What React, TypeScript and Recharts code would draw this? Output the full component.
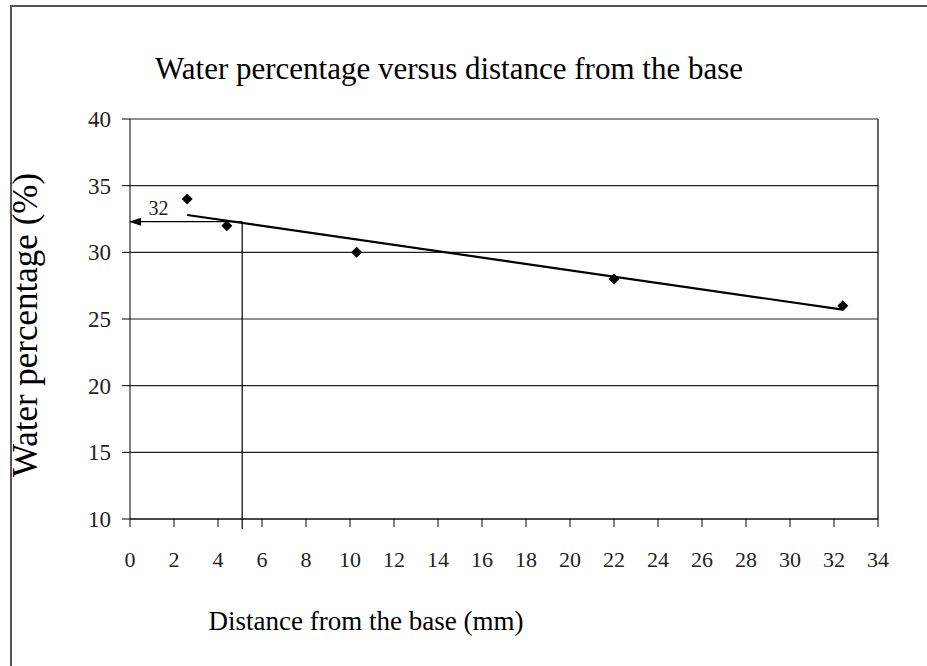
import React from 'react';
import { ComposedChart, XAxis, YAxis, CartesianGrid, Line, Scatter, ReferenceLine, ReferenceDot, Label } from 'recharts';

const distances = [2.6, 4.4, 10.3, 22, 32.4];
const waterPct = [34, 32, 30, 28, 26];
const trendX = [2.6, 32.4];
const trendY = [32.8, 25.7];
const readX = 5.1;
const readY = 32.3;
const readLabel = '32';
const labelPos = { x: 1.3, y: 33.3 };
const xTicks = [0, 2, 4, 6, 8, 10, 12, 14, 16, 18, 20, 22, 24, 26, 28, 30, 32, 34];
const yTicks = [10, 15, 20, 25, 30, 35, 40];
const title = 'Water percentage versus distance from the base';
const xTitle = 'Distance from the base (mm)';
const yTitle = 'Water percentage (%)';

const points = distances.map((d, i) => ({ x: d, y: waterPct[i] }));
const trend = trendX.map((d, i) => ({ x: d, y: trendY[i] }));
const arrow = [{ x: readX, y: readY }, { x: 0, y: readY }];

const FONT = '"Liberation Serif", "Times New Roman", serif';

const Diamond = (p: any) => {
  const { cx, cy } = p;
  const r = 5.5;
  return <polygon points={`${cx},${cy - r} ${cx + r},${cy} ${cx},${cy + r} ${cx - r},${cy}`} fill="#000" />;
};

const ArrowDot = (p: any) => {
  const { cx, cy, index } = p;
  if (index !== 1) return <g key={`ad${index}`} />;
  return <polygon key={`ad${index}`} points={`${cx - 1},${cy} ${cx + 11},${cy - 4} ${cx + 11},${cy + 4}`} fill="#000" />;
};

export default function App() {
  return (
    <div style={{ position: 'absolute', left: 0, top: 0, width: 927, height: 666, overflow: 'hidden', background: '#fff' }}>
      <div style={{ position: 'absolute', left: 10, top: 5, width: 940, height: 700, borderTop: '2px solid #555', borderLeft: '2px solid #555' }} />
      <div style={{ position: 'absolute', left: 0, top: 51, width: 898, textAlign: 'center', fontFamily: FONT, fontSize: 31, lineHeight: '36px', color: '#000' }}>{title}</div>
      <div style={{ position: 'absolute', left: 0, top: 0 }}>
        <ComposedChart width={927} height={666} margin={{ top: 119, right: 49, bottom: 0, left: 0 }}>
          <CartesianGrid vertical={false} stroke="#222" strokeWidth={1.2} />
          <XAxis
            type="number"
            dataKey="x"
            domain={[0, 34]}
            ticks={xTicks}
            interval={0}
            stroke="#000"
            tickSize={8}
            tickMargin={24}
            tick={{ fill: '#222', fontFamily: FONT, fontSize: 22 }}
            height={147}
          >
            <Label
              content={() => (
                <text x={366} y={630} textAnchor="middle" fontFamily={FONT} fontSize={27} fill="#000">{xTitle}</text>
              )}
            />
          </XAxis>
          <YAxis
            type="number"
            dataKey="y"
            domain={[10, 40]}
            ticks={yTicks}
            interval={0}
            stroke="#000"
            tickSize={8}
            tickMargin={11}
            width={130}
            tick={{ fill: '#222', fontFamily: FONT, fontSize: 23 }}
          >
            <Label
              content={() => (
                <text x={37} y={325} transform="rotate(-90 37 325)" textAnchor="middle" fontFamily={FONT} fontSize={35} fill="#000">{yTitle}</text>
              )}
            />
          </YAxis>
          <ReferenceLine x={34} stroke="#000" strokeWidth={1.2} />
          <ReferenceLine segment={[{ x: readX, y: readY }, { x: readX, y: 9.25 }]} ifOverflow="visible" stroke="#000" strokeWidth={1.2} />
          <Line data={arrow} dataKey="y" type="linear" stroke="#000" strokeWidth={1.2} dot={ArrowDot} activeDot={false} isAnimationActive={false} />
          <Line data={trend} dataKey="y" type="linear" stroke="#000" strokeWidth={2.2} dot={false} activeDot={false} isAnimationActive={false} />
          <Scatter data={points} dataKey="y" shape={Diamond} isAnimationActive={false} />
          <ReferenceDot
            x={labelPos.x}
            y={labelPos.y}
            r={0}
            shape={(p: any) => (
              <text x={p.cx} y={p.cy} textAnchor="middle" dominantBaseline="central" fontFamily={FONT} fontSize={20} fill="#222">{readLabel}</text>
            )}
          />
        </ComposedChart>
      </div>
    </div>
  );
}
